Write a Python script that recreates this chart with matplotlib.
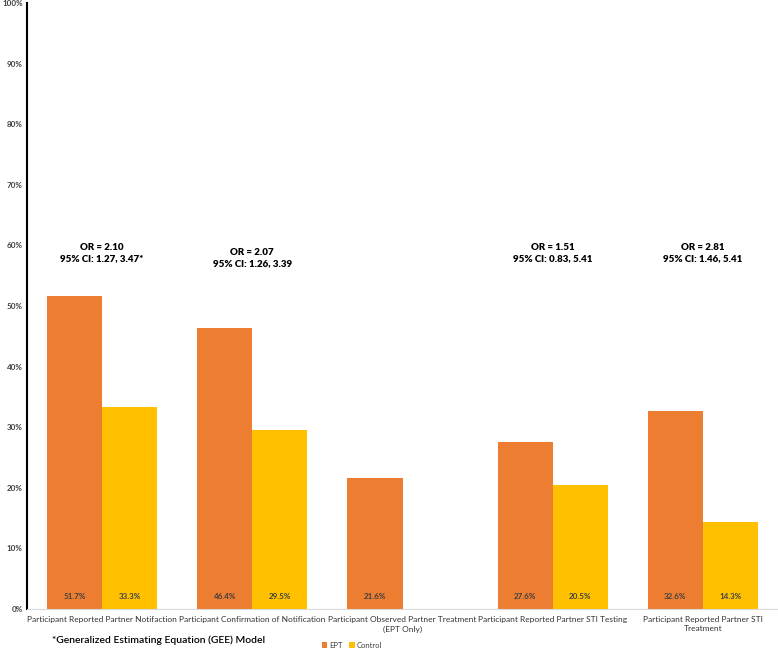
import numpy as np
import matplotlib.pyplot as plt
from matplotlib.ticker import PercentFormatter

# data
categories = ['Participant Reported Partner Notifaction',
              'Participant Confirmation of Notification',
              'Participant Observed Partner Treatment\n(EPT Only)',
              'Participant Reported Partner STI Testing',
              'Participant Reported Partner STI\nTreatment']
ept = [51.7, 46.4, 21.6, 27.6, 32.6]
control = [33.3, 29.5, None, 20.5, 14.3]
or_labels = ['OR = 2.10\n95% CI: 1.27, 3.47*', 'OR = 2.07\n95% CI: 1.26, 3.39', None,
             'OR = 1.51\n95% CI: 0.83, 5.41', 'OR = 2.81\n95% CI: 1.46, 5.41']
or_heights = [60.4, 59.6, None, 60.4, 60.4]

plt.rcParams['font.family'] = ['Lato', 'DejaVu Sans']

fig = plt.figure(figsize=(7.78, 6.49), dpi=100)
ax = fig.add_axes([27 / 778, 40 / 649, 751 / 778, 606 / 649])

x = np.arange(len(categories))
w = 0.367
ept_color = '#ED7D31'
ctl_color = '#FFC000'

ctl_vals = [v if v is not None else 0 for v in control]
b1 = ax.bar(x - w / 2, ept, w, color=ept_color, label='EPT')
b2 = ax.bar(x + w / 2, ctl_vals, w, color=ctl_color, label='Control')

for i in range(len(categories)):
    ax.text(x[i] - w / 2, 2.1, f'{ept[i]:.1f}%', ha='center', va='center',
            fontsize=5.8, color='#404040', fontweight='bold')
    if control[i] is not None:
        ax.text(x[i] + w / 2, 2.1, f'{control[i]:.1f}%', ha='center', va='center',
                fontsize=5.8, color='#404040', fontweight='bold')
    if or_labels[i] is not None:
        ax.text(x[i], or_heights[i], or_labels[i], ha='center', va='top',
                fontsize=7, fontweight='heavy', linespacing=1.3)

ax.set_xlim(-0.5, 4.5)
ax.set_ylim(0, 100)
ax.set_yticks(np.arange(0, 101, 10))
ax.yaxis.set_major_formatter(PercentFormatter(decimals=0))
ax.tick_params(axis='y', length=0, labelsize=5.8, labelcolor='#404040', pad=3)
for lbl in ax.get_yticklabels():
    lbl.set_fontweight('bold')
ax.set_xticks(x)
ax.set_xticklabels(categories, fontsize=6, color='#333333', linespacing=1.4)
ax.tick_params(axis='x', length=0, pad=5)

for s in ['top', 'right']:
    ax.spines[s].set_visible(False)
ax.spines['left'].set_linewidth(1.5)
ax.spines['bottom'].set_color('#d9d9d9')
ax.spines['bottom'].set_linewidth(0.8)

fig.text(52 / 778, 1 - 640 / 649, '*Generalized Estimating Equation (GEE) Model',
         fontsize=7.5, ha='left', va='center', fontweight='semibold')

fig.legend(handles=[b1, b2], loc='center', bbox_to_anchor=(352 / 778, 1 - 645 / 649),
           ncol=2, frameon=False, fontsize=5.5, handlelength=0.7, handleheight=0.7,
           columnspacing=0.8, handletextpad=0.3, labelcolor='#404040')

fig.savefig('out.png', dpi=100)
